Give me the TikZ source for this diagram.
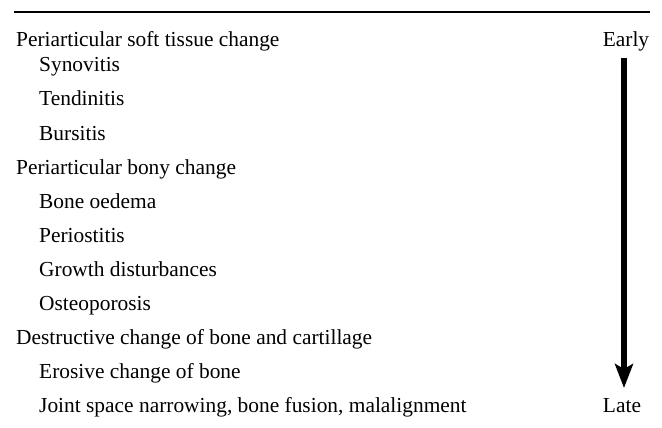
\documentclass[tikz,border=0pt]{standalone}
\usepackage{fontspec}
\setmainfont{Liberation Serif}
\usepackage{tikz}
\usetikzlibrary{arrows.meta, positioning}

\begin{document}
\begin{tikzpicture}[
    x=1pt, y=-1pt,
    >={Stealth[length=24pt, width=18pt, inset=5pt]},
    item/.style={anchor=base west, inner sep=0pt, font=\fontsize{21.4}{24}\selectfont},
    group/.style={item},
    sub/.style={item},
    stage/.style={anchor=base, inner sep=0pt, font=\fontsize{21.4}{24}\selectfont},
]
    \useasboundingbox (0,0) rectangle (662,428);
    \draw[line width=1.7pt] (14,12) -- (650,12);

    % groups and their items
    \node[group] (soft) at (16,47) {Periarticular soft tissue change};
    \node[sub] (syn) at (39,72) {Synovitis};
    \node[sub] (ten) at (39,106) {Tendinitis};
    \node[sub] (bur) at (39,140) {Bursitis};
    \node[group] (bony) at (16,174) {Periarticular bony change};
    \node[sub] (oed) at (39,208) {Bone oedema};
    \node[sub] (per) at (39,242) {Periostitis};
    \node[sub] (gro) at (39,276) {Growth disturbances};
    \node[sub] (ost) at (39,310) {Osteoporosis};
    \node[group] (des) at (16,344) {Destructive change of bone and cartillage};
    \node[sub] (ero) at (39,378) {Erosive change of bone};
    \node[sub] (joi) at (39,412) {Joint space narrowing, bone fusion, malalignment};

    % time axis
    \node[stage] (early) at (626,47) {Early};
    \node[stage] (late) at (622,412) {Late};
    \coordinate (top) at (624,58);
    \coordinate (tip) at (624,388);
    \draw[->, line width=5.5pt] (top) -- (tip);
\end{tikzpicture}
\end{document}
